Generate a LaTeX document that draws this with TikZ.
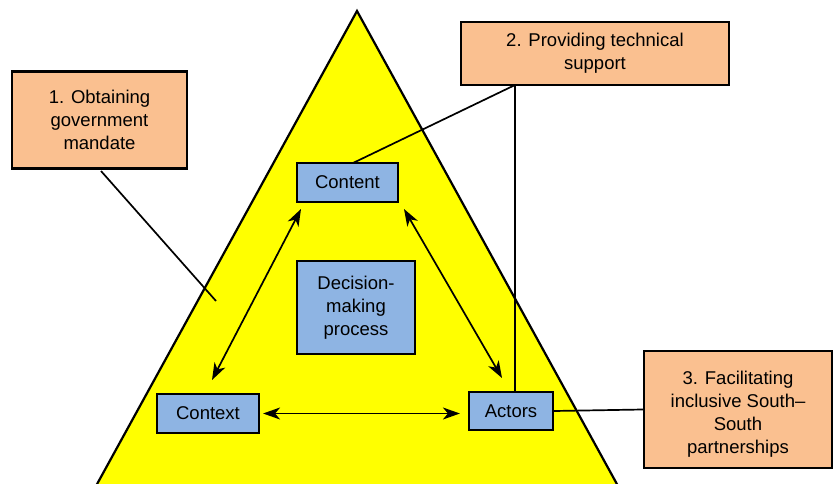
\documentclass[tikz,border=0pt]{standalone}
\usepackage{fontspec}
\setmainfont{Liberation Sans}
\usetikzlibrary{arrows.meta}
\definecolor{peach}{RGB}{250,192,144}
\definecolor{paleblue}{RGB}{142,180,227}
\definecolor{brightyellow}{RGB}{255,255,0}
\tikzset{
  boxtext/.style={align=center, inner sep=0pt, font=\fontsize{18.5}{23}\selectfont},
  labelbox/.style={draw=black, line width=2.2pt, fill=peach, boxtext},
  corebox/.style={draw=black, line width=2.2pt, fill=paleblue, boxtext},
  link/.style={line width=1.7pt},
  twoway/.style={line width=1.7pt, {Stealth[length=17pt,width=12pt,inset=5pt]}-{Stealth[length=17pt,width=12pt,inset=5pt]}}
}
\begin{document}
\begin{tikzpicture}[x=1pt, y=-1pt]
\useasboundingbox (0,0) rectangle (833,484);

% the triangle frame
\coordinate (apex) at (357,11);
\coordinate (bl) at (96,486);
\coordinate (br) at (618,486);
\draw[fill=brightyellow, line width=2.2pt, line join=miter] (bl) -- (apex) -- (br) -- cycle;

% inner elements
\node[corebox, minimum width=101pt, minimum height=39pt] (content) at (347.5,182.5) {Content};
\node[corebox, minimum width=118pt, minimum height=93pt] (decision) at (356,307.5) {Decision-\\making\\process};
\node[corebox, minimum width=102pt, minimum height=39pt] (context) at (208,413.5) {Context};
\node[corebox, minimum width=84pt, minimum height=38pt] (actors) at (511,411) {Actors};

% outer labels
\node[labelbox, minimum width=175pt, minimum height=97pt] (mandate) at (99.5,120) {1. Obtaining\\government\\mandate};
\node[labelbox, minimum width=268pt, minimum height=63pt] (support) at (595,53.5) {2. Providing technical\\support};
\node[labelbox, minimum width=188pt, minimum height=117pt] (partner) at (738,409.5) {};
\node[boxtext] (partnertext) at ([yshift=-5pt]partner.center) {3. Facilitating\\inclusive South–\\South\\partnerships};

% free end of the mandate pointer
\coordinate (mandateEnd) at (216,301);
\coordinate (supportFoot) at (515,85);

% connectors
\draw[link] (101,171) -- (mandateEnd);
\draw[link] (supportFoot) -- (515,392);
\draw[link] (supportFoot) -- (353,163);
\draw[link] (actors.east) -- (partner.west);

% relations between the three elements
\draw[twoway] (212,380) -- (301,209);
\draw[twoway] (404,209) -- (502,378);
\draw[twoway] (context.east) ++(3,0) -- ([xshift=-8pt]actors.west |- context.east);
\end{tikzpicture}
\end{document}
